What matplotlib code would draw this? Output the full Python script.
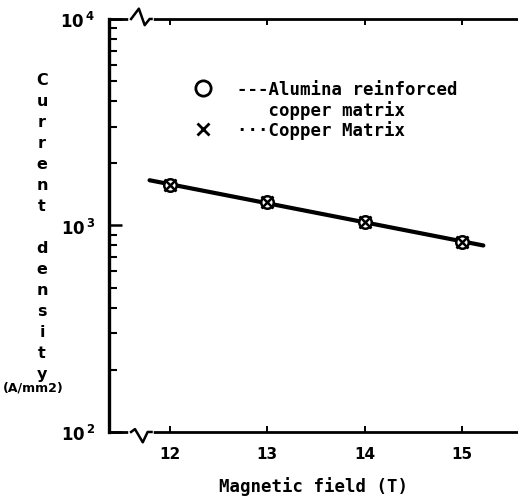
import matplotlib
matplotlib.use("Agg")
import matplotlib.pyplot as plt
from matplotlib.lines import Line2D
from matplotlib.transforms import blended_transform_factory
from matplotlib.ticker import FixedLocator, LogLocator, NullFormatter

plt.rcParams['mathtext.default'] = 'bf'

# data
field = [12, 13, 14, 15]
alumina = [1578, 1306, 1042, 834]
copper = [1578, 1306, 1042, 834]
fit_x = [11.79, 15.22]
fit_y = [1656, 800]

xticks = [12, 13, 14, 15]
yticks = [100, 1000, 10000]
ylabels = [r'$10^{\,2}$', r'$10^{\,3}$', r'$10^{\,4}$']

mono = 'DejaVu Sans Mono'

fig = plt.figure(figsize=(5.18, 5.02), dpi=100)
ax = fig.add_axes([0.2104, 0.1375, 0.7896, 0.8227])

ax.plot(fit_x, fit_y, color='black', lw=3, solid_capstyle='round')
ax.plot(field, alumina, 'o', ms=9, mfc='white', mec='black', mew=1.8)
ax.plot(field, copper, 'x', ms=8, mec='black', mew=1.8)

ax.set_yscale('log')
ax.set_ylim(100, 10000)
ax.set_xlim(11.373, 15.576)

ax.yaxis.set_major_locator(FixedLocator(yticks))
ax.set_yticklabels(ylabels, fontsize=12)
ax.yaxis.set_minor_locator(LogLocator(base=10, subs=range(2, 10)))
ax.yaxis.set_minor_formatter(NullFormatter())
ax.tick_params(axis='y', which='major', direction='in', length=9, width=1.8, pad=10)
ax.tick_params(axis='y', which='minor', direction='in', length=5.5, width=1.5)

ax.set_xticks(xticks)
ax.set_xticklabels([str(t) for t in xticks], fontsize=11, fontweight='bold')
ax.tick_params(axis='x', which='both', direction='in', top=True, length=4.5,
               width=1.4, pad=10)

ax.spines['right'].set_visible(False)
ax.spines['left'].set_linewidth(2.4)
ax.spines['top'].set_linewidth(2)
ax.spines['bottom'].set_linewidth(2)

# axis break marks on the x axis
tr = blended_transform_factory(ax.transData, ax.transAxes)
for y0 in (0, 1):
    ax.plot([11.60, 11.80], [y0, y0], color='white', lw=4, transform=tr,
            clip_on=False, zorder=5)
ax.plot([11.60, 11.64, 11.72, 11.77, 11.81], [0, 0.007, -0.025, 0, 0],
        color='black', lw=1.8, transform=tr, clip_on=False, zorder=6)
ax.plot([11.60, 11.68, 11.74, 11.79, 11.81], [1, 1.025, 0.985, 1, 1],
        color='black', lw=1.8, transform=tr, clip_on=False, zorder=6)

ax.set_xlabel('Magnetic field (T)', fontsize=12.5, family=mono,
              fontweight='bold', labelpad=11)

# stacked vertical y label
ylab_letters = list('Current') + [''] + list('density')
fig.text(0.081, 0.855, '\n'.join(ylab_letters), fontsize=11.5, fontweight='bold',
         ha='center', va='top', linespacing=1.5)
fig.text(0.065, 0.227, '(A/mm2)', fontsize=9, fontweight='bold',
         ha='center', va='center')

handles = [Line2D([], [], ls='none', marker='o', ms=11, mfc='white', mec='black', mew=2),
           Line2D([], [], ls='none'),
           Line2D([], [], ls='none', marker='x', ms=9, mec='black', mew=2)]
labels = ['---Alumina reinforced', '   copper matrix', '\u00b7\u00b7\u00b7Copper Matrix']
ax.legend(handles, labels, loc='upper left', bbox_to_anchor=(0.175, 0.889),
          frameon=False, handlelength=0.8, handletextpad=1.55, labelspacing=0.08,
          prop={'family': mono, 'size': 12.5, 'weight': 'bold'})

fig.savefig('out.png', dpi=100)
